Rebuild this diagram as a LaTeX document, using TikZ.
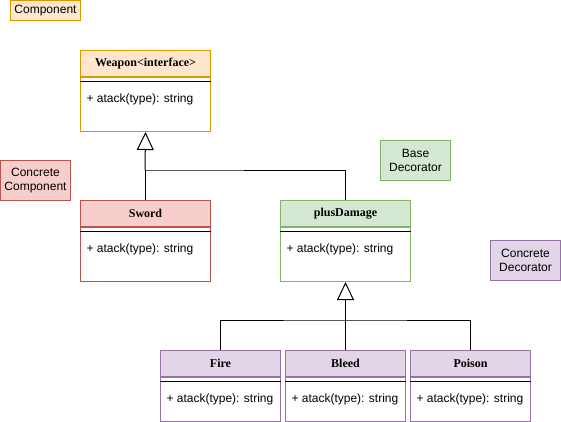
\documentclass[tikz,border=0pt]{standalone}
\usepackage{fontspec}
\setmainfont{Liberation Sans}
\newfontfamily\classfont{Liberation Serif}
\usetikzlibrary{positioning, arrows.meta}
\definecolor{orangefill}{HTML}{FFE6CC}
\definecolor{orangeline}{HTML}{D79B00}
\definecolor{redfill}{HTML}{F8CECC}
\definecolor{redline}{HTML}{B85450}
\definecolor{greenfill}{HTML}{D5E8D4}
\definecolor{greenline}{HTML}{82B366}
\definecolor{purplefill}{HTML}{E1D5E7}
\definecolor{purpleline}{HTML}{9673A6}
\tikzset{
	header/.style={draw=#1line, fill=#1fill, anchor=north west, minimum height=26pt, inner sep=0pt, font=\classfont\bfseries\fontsize{12}{14}\selectfont},
	body/.style={draw=#1line, fill=white, inner sep=0pt},
	member/.style={anchor=west, inner sep=0pt, font=\fontsize{12}{14}\selectfont},
	tag/.style={draw=#1line, fill=#1fill, anchor=north west, minimum width=70pt, inner sep=0pt, align=center, font=\fontsize{12}{14}\selectfont},
	inherit/.style={-{Triangle[open, width=17pt, length=18pt]}},
}

\begin{document}
\begin{tikzpicture}[x=1pt, y=-1pt, line width=1pt]
	\useasboundingbox (0,0) rectangle (561,421);
	\node [tag=orange, minimum height=20pt] (component) at (10,0) {Component};
	\node [tag=red, minimum height=40pt] (concrete component) at (0,160) {Concrete\\Component};
	\node [tag=green, minimum height=40pt] (base decorator) at (380,140) {Base\\Decorator};
	\node [tag=purple, minimum height=40pt] (concrete decorator) at (490,240) {Concrete\\Decorator};

	\node [header=orange, minimum width=130pt] (weapon) at (80,50) {Weapon<interface>};
	\node [body=orange, minimum width=130pt, minimum height=54pt, below=0pt of weapon] (weapon body) {};
	\node [header=red, minimum width=130pt] (sword) at (80,200) {Sword};
	\node [body=red, minimum width=130pt, minimum height=54pt, below=0pt of sword] (sword body) {};
	\node [header=green, minimum width=130pt] (plus damage) at (280,200) {plusDamage};
	\node [body=green, minimum width=130pt, minimum height=54pt, below=0pt of plus damage] (plus damage body) {};
	\node [header=purple, minimum width=120pt] (fire) at (160,350) {Fire};
	\node [body=purple, minimum width=120pt, minimum height=44pt, below=0pt of fire] (fire body) {};
	\node [header=purple, minimum width=120pt] (bleed) at (285,350) {Bleed};
	\node [body=purple, minimum width=120pt, minimum height=44pt, below=0pt of bleed] (bleed body) {};
	\node [header=purple, minimum width=120pt] (poison) at (410,350) {Poison};
	\node [body=purple, minimum width=120pt, minimum height=44pt, below=0pt of poison] (poison body) {};

	\foreach \cls in {weapon, sword, plus damage, fire, bleed, poison} {
		\draw ([yshift=-4pt]\cls\space body.north west) -- ([yshift=-4pt]\cls\space body.north east);
		\node [member] at ([xshift=6pt, yshift=-22pt]\cls\space body.north west) {+ atack(type): string};
	}

	\coordinate (top join) at (145,170);
	\coordinate (low join) at (345,320);
	\draw (sword.north) |- (top join) -| (plus damage.north);
	\draw [inherit] (top join) -- (weapon body.south);
	\draw (fire.north) |- (low join) -| (poison.north);
	\draw [inherit] (bleed.north) -- (plus damage body.south);
\end{tikzpicture}
\end{document}
